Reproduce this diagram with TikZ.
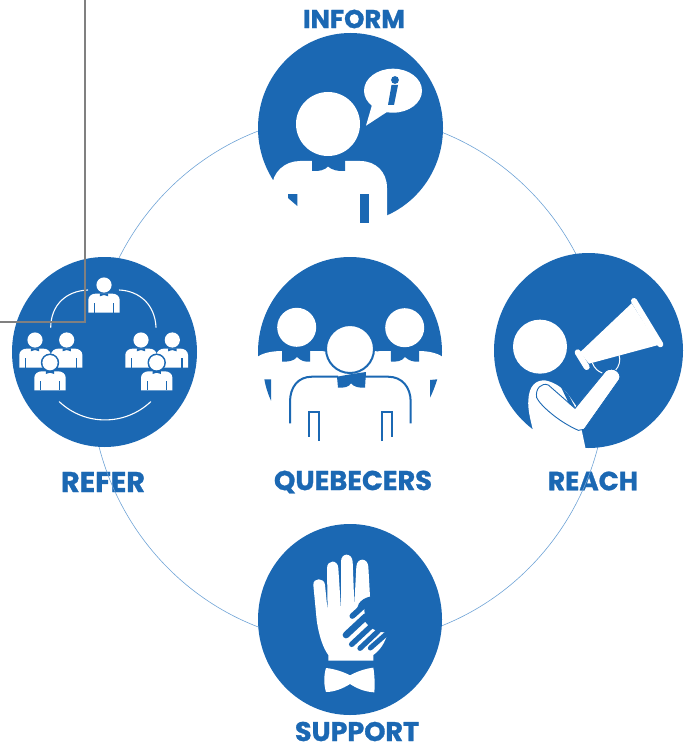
\documentclass[tikz,border=0pt]{standalone}
\usepackage{fontspec}
\setmainfont[BoldFont={Poppins Bold},BoldFeatures={FakeBold=1.1}]{Poppins}
\definecolor{qblue}{HTML}{1B68B3}
\definecolor{qring}{HTML}{6FA3D6}
\definecolor{qcrop}{HTML}{808080}
\tikzset{
  lbl/.style={text=qblue,font=\bfseries\fontsize{27}{30}\selectfont,inner sep=0pt,anchor=center},
  disc/.style={fill=qblue,draw=none},
  wfill/.style={fill=white,draw=none},
  bfill/.style={fill=qblue,draw=none},
  wline/.style={draw=white,line width=1.1pt,line cap=round},
  bline/.style={draw=qblue,line width=2pt},
  tiny person/.pic={
    \fill[white] (0,0) circle[radius=7.6];
    \fill[white] (-15.7,27.7) -- (-15.7,15) .. controls (-15.7,11) and (-12,8.6) .. (-8,8.6) -- (8,8.6) .. controls (12,8.6) and (15.7,11) .. (15.7,15) -- (15.7,27.7) -- cycle;
    \fill[qblue] (-4.2,8.4) -- (-4.2,11.3) -- (0,10) -- (4.2,11.3) -- (4.2,8.4) -- cycle;
    \fill[qblue] (-10.2,18) rectangle (-9,27.7);
    \fill[qblue] (9,18) rectangle (10.2,27.7);
  }
}
\begin{document}
\begin{tikzpicture}[x=1pt,y=-1pt]
\useasboundingbox (0,0) rectangle (686,746);
% labels
\node[lbl] (inform) at (354,19) {\resizebox{102pt}{!}{INFORM}};
\node[lbl] (refer) at (103,482) {\resizebox{84pt}{!}{REFER}};
\node[lbl] (quebecers) at (353,482) {\resizebox{158pt}{!}{QUEBECERS}};
\node[lbl] (reach) at (593,481) {\resizebox{90pt}{!}{REACH}};
\node[lbl] (support) at (357,731.5) {\resizebox{124pt}{!}{SUPPORT}};
% ring
\draw[qring,line width=0.6pt] (348.5,379) ellipse[x radius=258,y radius=264.6];
% INFORM
\fill[disc] (350.5,128) ellipse[x radius=92.5,y radius=95];
\fill[wfill] (272,230) -- (272,188) .. controls (272,172) and (285,161) .. (300,161) -- (360,161) .. controls (376,161) and (387,172) .. (387,188) -- (387,214) -- (387,230) -- cycle;
\fill[bfill] (312,158) -- (312,171) .. controls (319,171.5) and (325,170) .. (328,166.5) .. controls (332,170) and (338,171.5) .. (345,171) -- (345,158) -- cycle;
\fill[white] (328,124) circle[radius=32];
\fill[bfill] (288,194) -- (297.3,194) -- (297.3,206) -- (288,198) -- cycle;
\fill[bfill] (360,194) rectangle (368.7,222.5);
\fill[wfill] (393,90.7) ellipse[x radius=29,y radius=22];
\fill[wfill] (372,105) -- (366,125.7) -- (390,110) -- cycle;
\fill[qblue] (395,80) circle[radius=3.9];
\fill[bfill] (391.5,85) -- (398,85) -- (394,105) -- (388,105) -- cycle;
% REFER
\fill[disc] (104.5,352) ellipse[x radius=92.5,y radius=95];
\pic at (104,285) {tiny person};
\pic at (35,340) {tiny person};
\pic at (66.7,340) {tiny person};
\fill[qblue] (50,362.7) circle[radius=9.2];
\pic at (50,362.7) {tiny person};
\pic at (141,340) {tiny person};
\pic at (172.3,340) {tiny person};
\fill[qblue] (156.7,362.7) circle[radius=9.2];
\pic at (156.7,362.7) {tiny person};
\draw[wline] (50.7,327.3) .. controls (51,305) and (66,291) .. (87.7,290);
\draw[wline] (119.3,290) .. controls (140,291) and (155,305) .. (156,327.3);
\draw[wline] (59.3,401.7) .. controls (85,426) and (125,426) .. (150.7,401.7);
% QUEBECERS
\fill[disc] (350,352) ellipse[x radius=92,y radius=95];
\fill[wfill] (250,358) -- (258,356.5) .. controls (263,353) and (272,351) .. (282,351) -- (419,351) .. controls (428,351) and (437,353) .. (442,356.5) -- (450,358) -- (450,449) -- (250,449) -- cycle;
\fill[bfill] (282,348) -- (282,361.5) .. controls (288,362) and (294,361) .. (297,357) .. controls (301,361) and (305,362) .. (310,361.7) -- (310,348) -- cycle;
\fill[bfill] (390.7,348) -- (391,361.5) .. controls (397,362) and (402,361) .. (405,357) .. controls (409,361) and (414,362) .. (419,361.7) -- (419,348) -- cycle;
\fill[bfill] (310,348) -- (325,351.5) -- (332,348) -- cycle;
\fill[bfill] (370,348) -- (377,351.5) -- (391,348) -- cycle;
\fill[white] (296.7,327.3) circle[radius=19.5];
\fill[white] (404.7,327.7) circle[radius=19.5];
\draw[qblue,line width=2pt,fill=white] (350,349) circle[radius=24];
\fill[bfill] (337,376.7) -- (338,387.7) .. controls (344,388) and (349,387) .. (351,383.3) .. controls (354,387) and (359,388) .. (365,387.7) -- (366,372) -- (352,374) -- cycle;
\draw[bline] (290,423.3) -- (290,402) .. controls (290,387) and (298,376.7) .. (312,376.7) -- (338,376.7);
\draw[bline] (364,376.7) -- (388,376.7) .. controls (402,376.7) and (410.7,387) .. (410.7,402) -- (410.7,423.3);
\draw[bline] (309,436.7) -- (309,411.7) -- (319,411.7) -- (319,441);
\draw[bline] (381.7,441) -- (381.7,411.7) -- (391.7,411.7) -- (391.7,436.7);
\fill[bfill] (264.3,379.3) -- (271,379.3) -- (271,400.7) .. controls (268,394) and (266,388) .. (264.3,379.3) -- cycle;
\fill[bfill] (437.3,379.3) -- (430,380) -- (430,397.7) .. controls (433,392) and (435,386) .. (437.3,379.3) -- cycle;
% REACH (zoom coordinates)
\fill[disc] (588.5,350.5) ellipse[x radius=94.5,y radius=97.5];
\begin{scope}[shift={(485,245)},x=1/3*1pt,y=-1/3*1pt]
  \fill[white] (165,305) circle[radius=81];
  % body
  \fill[wfill] (143,552) .. controls (135,520) and (128,490) .. (130,465) .. controls (132,425) and (150,405) .. (180,406) .. controls (210,412) and (235,430) .. (252,452) -- (300,520) -- (290,555) -- (302,612) -- (240,640) -- (130,570) -- cycle;
  % arm
  \draw[draw=qblue,line width=0.9pt,fill=white] (270,490) -- (190,420) .. controls (170,412) and (150,430) .. (155,458) .. controls (165,480) and (220,530) .. (280,556) -- (297,553) -- (403,403) .. controls (412,385) and (385,362) .. (362,378) -- cycle;
  \fill[wfill] (272,493) -- (364,380) .. controls (385,365) and (409,385) .. (401,402) -- (296,551) -- cycle;
  \fill[qblue] (225,420) -- (252,452) -- (272,490) -- (252,476) -- cycle;
  % megaphone
  \fill[wfill] (285,322) -- (440,175) -- (520,300) -- (312,356) -- cycle;
  \draw[white,line width=6pt,line cap=round] (278,322) -- (305,366);
  \draw[white,line width=6pt,line cap=round] (447,168) -- (526,298);
  \draw[white,line width=1pt] (322,354) .. controls (328,370) and (340,380) .. (352,384);
  \draw[white,line width=1pt] (402,330) .. controls (408,345) and (402,365) .. (392,375);
\end{scope}
% SUPPORT (zoom coordinates)
\fill[disc] (350,619.5) ellipse[x radius=92,y radius=95.5];
\begin{scope}[shift={(245,520)},x=1/3*1pt,y=-1/3*1pt]
  \fill[wfill] (250,422) -- (250,405) .. controls (235,385) and (222,350) .. (215,300) -- (205,195)
    .. controls (204,172) and (238,172) .. (240,195) -- (248,275) -- (246,145)
    .. controls (246,118) and (279,118) .. (280,145) -- (288,270) -- (288,125)
    .. controls (288,97) and (321,97) .. (323,125) -- (328,255) -- (334,140)
    .. controls (336,112) and (368,112) .. (370,140) -- (375,230)
    -- (428,338) .. controls (420,370) and (405,390) .. (385,405) -- (385,422) -- cycle;
  \fill[bfill] (375,230) .. controls (360,233) and (350,240) .. (342,250) -- (335,268) -- (358,265) -- (360,305) -- (377,323) -- (400,335) -- (428,338) -- (440,300) -- (400,240) -- cycle;
  \foreach \ax/\ay/\bx/\by/\wd in {322/288/362/252/5.7,303/345/362/290/6.7,320/373/380/317/5.4,345/385/400/333/5.2,376/384/424/342/5}
    \draw[qblue,line width=\wd pt,line cap=round] (\ax,\ay) -- (\bx,\by);
  % bow tie
  \fill[wfill] (243,444) .. controls (265,446) and (295,455) .. (315,466) .. controls (335,455) and (360,446) .. (385,443)
    .. controls (389,468) and (390,490) .. (388,517) .. controls (360,516) and (335,505) .. (315,492)
    .. controls (295,505) and (268,516) .. (243,516) .. controls (236,492) and (236,468) .. (243,444) -- cycle;
\end{scope}
% crop mark
\draw[qcrop,line width=1.2pt] (85,0) -- (85,322) -- (0,322);
\end{tikzpicture}
\end{document}
